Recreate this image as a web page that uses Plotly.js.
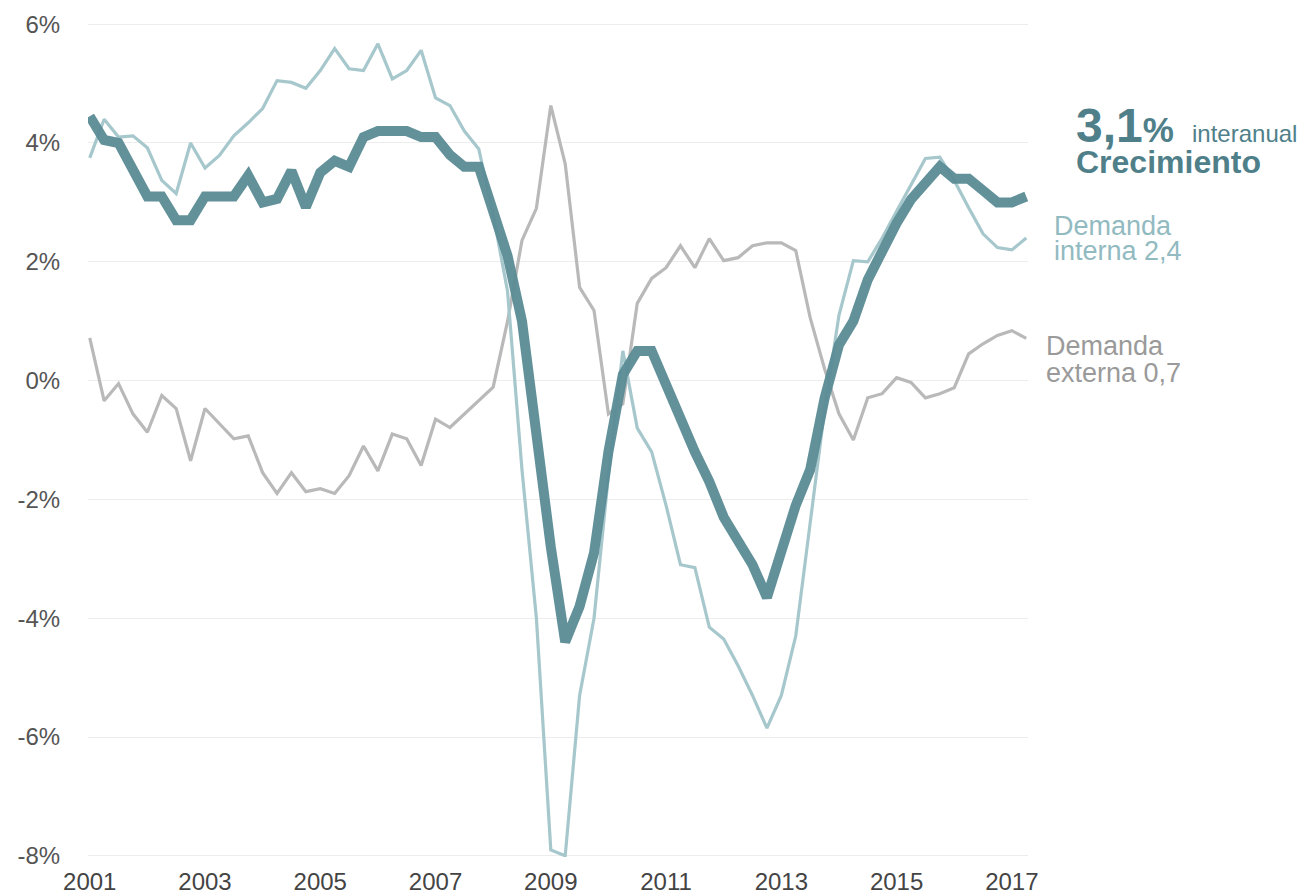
<!DOCTYPE html>
<html>
<head>
<meta charset="utf-8">
<script src="https://cdn.plot.ly/plotly-3.0.1.min.js"></script>
<style>
  html, body { margin: 0; padding: 0; background: #ffffff; }
  #chart { width: 1307px; height: 896px; }
</style>
</head>
<body>
<div id="chart"></div>
<script>
// Trimestres: 2001T1 ... 2017T2 (66 trimestres)
const anioInicio = 2001;
const numTrimestres = 66;

// Crecimiento interanual del PIB (%)
const crecimiento = [
  4.45, 4.05, 4.0, 3.55,
  3.1, 3.1, 2.7, 2.7,
  3.1, 3.1, 3.1, 3.45,
  3.0, 3.06, 3.53, 2.92,
  3.5, 3.7, 3.6, 4.1,
  4.2, 4.2, 4.2, 4.1,
  4.1, 3.8, 3.6, 3.6,
  2.9, 2.1, 1.0, -1.0,
  -2.8, -4.4, -3.8, -2.9,
  -1.2, 0.1, 0.5, 0.5,
  -0.1, -0.7, -1.2, -1.7,
  -2.3, -2.7, -3.1, -3.65,
  -2.9, -2.1, -1.5, -0.3,
  0.6, 1.0, 1.7, 2.2,
  2.65, 3.05, 3.35, 3.6,
  3.4, 3.4, 3.2, 3.0,
  3.0, 3.1
];

// Aportación de la demanda interna (puntos)
const demandaInterna = [
  3.75, 4.4, 4.1, 4.12,
  3.92, 3.37, 3.15, 4.0,
  3.58, 3.79, 4.12, 4.34,
  4.58, 5.05, 5.02, 4.92,
  5.22, 5.59, 5.25, 5.22,
  5.67, 5.08, 5.22, 5.56,
  4.76, 4.63, 4.2, 3.9,
  2.8, 1.5, -1.5, -4.0,
  -7.9, -8.0, -5.3, -4.0,
  -1.6, 0.5, -0.8, -1.2,
  -2.1, -3.1, -3.15, -4.15,
  -4.35, -4.8, -5.3, -5.85,
  -5.3, -4.3, -2.4, -0.5,
  1.1, 2.02, 2.0, 2.4,
  2.85, 3.3, 3.74, 3.76,
  3.37, 2.91, 2.47, 2.24,
  2.2, 2.4
];

// Aportación de la demanda externa (puntos)
const demandaExterna = [
  0.72, -0.34, -0.05, -0.56,
  -0.87, -0.25, -0.47, -1.35,
  -0.47, -0.72, -0.98, -0.93,
  -1.55, -1.9, -1.55, -1.87,
  -1.82, -1.9, -1.6, -1.1,
  -1.52, -0.9, -0.98, -1.43,
  -0.65, -0.79, -0.56, -0.34,
  -0.11, 1.0, 2.36, 2.9,
  4.63, 3.65, 1.57, 1.18,
  -0.56, -0.39, 1.3, 1.72,
  1.9, 2.27, 1.9, 2.39,
  2.02, 2.07, 2.27, 2.32,
  2.32, 2.19, 1.06, 0.2,
  -0.56, -1.0, -0.29, -0.22,
  0.05, -0.03, -0.29, -0.22,
  -0.12, 0.45, 0.62, 0.76,
  0.84, 0.71
];

const xTicks = [2001, 2003, 2005, 2007, 2009, 2011, 2013, 2015, 2017];
const xTickLabels = ["2001", "2003", "2005", "2007", "2009", "2011", "2013", "2015", "2017"];
const yTicks = [-8, -6, -4, -2, 0, 2, 4, 6];
const yTickLabels = ["-8%", "-6%", "-4%", "-2%", "0%", "2%", "4%", "6%"];

const x = [];
for (let i = 0; i < numTrimestres; i++) x.push(anioInicio + i / 4);

const FONT = "Liberation Sans, Arial, Helvetica, sans-serif";
const cPIB = "#5a8b95";
const cDI = "#a6c7cc";
const cDE = "#b9b9b9";

const traces = [
  { x: x, y: demandaExterna, type: "scatter", mode: "lines", name: "Demanda externa",
    line: { color: cDE, width: 3.2 }, hoverinfo: "skip" },
  { x: x, y: demandaInterna, type: "scatter", mode: "lines", name: "Demanda interna",
    line: { color: cDI, width: 3.2 }, hoverinfo: "skip" },
  { x: x, y: crecimiento, type: "scatter", mode: "lines", name: "Crecimiento",
    line: { color: cPIB, width: 10 }, opacity: 0.95, hoverinfo: "skip" }
];

// plot geometry helpers (paper coordinates from pixels)
const W = 1307, H = 896;
const mL = 88.27, mR = 279.27, mT = 22.81, mB = 38.79;
const pw = W - mL - mR, ph = H - mT - mB;
const px = v => (v - mL) / pw;
const py = v => (H - mB - v) / ph;
// place text by baseline
function lab(text, left, baseline, size, color, bold) {
  return {
    xref: "paper", yref: "paper", x: px(left - 1), y: py(baseline + 0.212 * size + 1),
    xanchor: "left", yanchor: "bottom", showarrow: false, align: "left",
    borderpad: 0,
    text: bold ? "<b>" + text + "</b>" : text,
    font: { family: FONT, size: size, color: color }
  };
}
const cTxt = "#4f808a";
const annotations = [
  lab("3,1<span style='font-size:35px'>%</span>", 1076, 142, 48, cTxt, true),
  lab("interanual", 1192, 142, 24, cTxt, false),
  lab("Crecimiento", 1076, 173, 32, cTxt, true),
  lab("Demanda", 1054, 235, 27, "#92bac1", false),
  lab("interna 2,4", 1054, 260, 27, "#92bac1", false),
  lab("Demanda", 1046, 355, 27, "#9a9a9a", false),
  lab("externa 0,7", 1046, 382, 27, "#9a9a9a", false)
];

const layout = {
  width: W, height: H,
  margin: { l: mL, r: mR, t: mT, b: mB, pad: 0 },
  paper_bgcolor: "#ffffff", plot_bgcolor: "#ffffff",
  showlegend: false,
  font: { family: FONT, color: "#444444" },
  xaxis: {
    range: [2000.97, 2017.28],
    tickvals: xTicks, ticktext: xTickLabels,
    showgrid: false, zeroline: false, showline: false,
    ticks: "outside", ticklen: 3, tickcolor: "rgba(0,0,0,0)",
    tickfont: { family: FONT, size: 24, color: "#444444" },
    fixedrange: true
  },
  yaxis: {
    range: [-8.02, 6.02],
    tickvals: yTicks, ticktext: yTickLabels,
    showgrid: true, gridcolor: "#ededed", gridwidth: 1,
    zeroline: false, showline: false,
    ticks: "outside", ticklen: 22, tickcolor: "rgba(0,0,0,0)",
    tickfont: { family: FONT, size: 24, color: "#555555" },
    fixedrange: true
  },
  annotations: annotations
};

Plotly.newPlot("chart", traces, layout, { displayModeBar: false, staticPlot: true });
</script>
</body>
</html>
